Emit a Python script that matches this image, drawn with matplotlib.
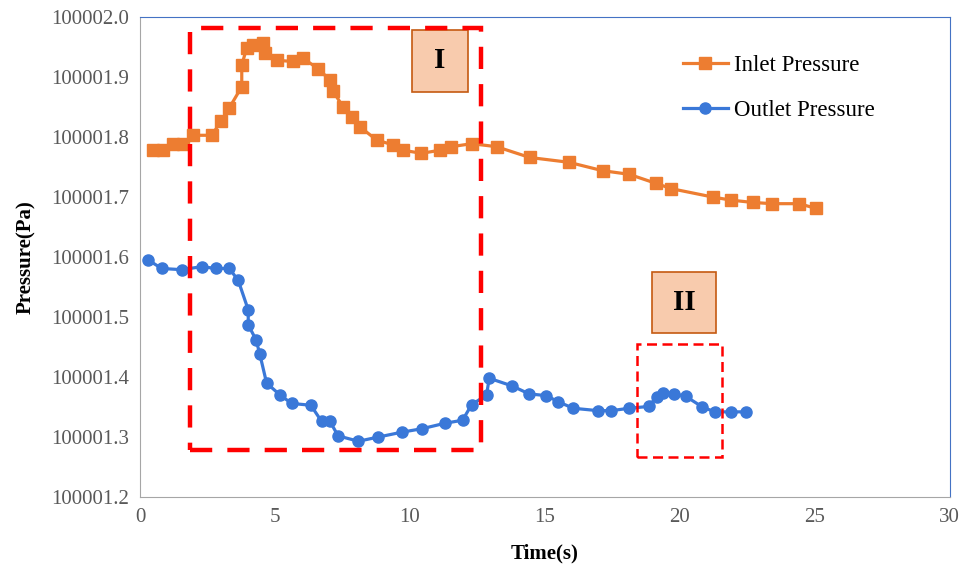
import matplotlib
matplotlib.use('Agg')
import matplotlib.pyplot as plt
from matplotlib.patches import Rectangle

plt.rcParams['font.family'] = ['Liberation Serif', 'DejaVu Serif']

# Inlet pressure (offset from 100000 Pa)
t_in = [0.49, 0.86, 1.23, 1.60, 1.97, 2.66, 2.99, 3.30, 3.77, 3.77, 3.95, 4.20, 4.57, 4.63,
        5.06, 5.68, 6.05, 6.60, 7.04, 7.16, 7.53, 7.84, 8.15, 8.77, 9.38, 9.75, 10.43, 11.11,
        11.54, 12.29, 13.21, 14.44, 15.89, 17.14, 18.12, 19.11, 19.69, 21.23, 21.89, 22.71,
        23.43, 24.42, 25.06]
p_in = [1.778, 1.778, 1.789, 1.789, 1.803, 1.803, 1.826, 1.848, 1.884, 1.920, 1.948, 1.953,
        1.956, 1.940, 1.928, 1.926, 1.931, 1.914, 1.895, 1.876, 1.850, 1.834, 1.817, 1.795,
        1.787, 1.778, 1.773, 1.778, 1.784, 1.789, 1.784, 1.766, 1.758, 1.744, 1.738, 1.723,
        1.714, 1.700, 1.695, 1.691, 1.689, 1.689, 1.681]

# Outlet pressure
t_out = [0.31, 0.80, 1.54, 2.29, 2.81, 3.31, 3.64, 4.01, 4.01, 4.30, 4.44, 4.69, 5.19, 5.62,
         6.33, 6.73, 7.04, 7.34, 8.09, 8.83, 9.69, 10.46, 11.30, 11.95, 12.29, 12.84, 12.94,
         13.80, 14.41, 15.06, 15.49, 16.05, 16.97, 17.47, 18.12, 18.85, 19.14, 19.38, 19.78,
         20.22, 20.84, 21.30, 21.91, 22.47]
p_out = [1.595, 1.581, 1.579, 1.584, 1.581, 1.581, 1.561, 1.512, 1.487, 1.462, 1.438, 1.390,
         1.370, 1.356, 1.353, 1.326, 1.326, 1.302, 1.293, 1.300, 1.308, 1.314, 1.323, 1.328,
         1.354, 1.370, 1.398, 1.385, 1.372, 1.369, 1.359, 1.348, 1.344, 1.344, 1.348, 1.351,
         1.367, 1.374, 1.372, 1.368, 1.350, 1.342, 1.342, 1.342]

base = 100000
p_in = [base + p for p in p_in]
p_out = [base + p for p in p_out]

orange = '#ED7D31'
blue = '#3A78D8'
red = '#FF0000'
peach = '#F8CBAD'
brown = '#C55A11'

fig = plt.figure(figsize=(9.69, 5.70), dpi=100)
ax = fig.add_axes([0.1445, 0.128, 0.8355, 0.842])

ax.plot(t_in, p_in, color=orange, lw=2.3, marker='s', ms=8, label='Inlet Pressure')
ax.plot(t_out, p_out, color=blue, lw=2.3, marker='o', ms=8, label='Outlet Pressure')

ax.set_xlim(0, 30)
ax.set_ylim(base + 1.2, base + 2.0)
ax.set_xticks(range(0, 31, 5))
ax.set_yticks([base + 1.2 + 0.1 * i for i in range(9)])
ax.set_yticklabels([f'{base + 1.2 + 0.1 * i:.1f}' for i in range(9)])
ax.tick_params(length=0, labelsize=15, labelcolor='#595959', pad=8)

for s in ['left', 'bottom']:
    ax.spines[s].set_color('#A6A6A6')
for s in ['top', 'right']:
    ax.spines[s].set_color('#4472C4')
    ax.spines[s].set_linewidth(0.8)

ax.set_xlabel('Time(s)', fontsize=15, fontweight='bold', labelpad=12)
ax.set_ylabel('Pressure(Pa)', fontsize=15, fontweight='bold', labelpad=11)

# labels I, II
ax.add_patch(Rectangle((10.06, base + 1.8755), 12.16 - 10.06, 1.978 - 1.8755,
                       fc=peach, ec=brown, lw=1.2, zorder=6))
ax.text(11.11, base + 1.927, 'I', fontsize=21, fontweight='bold', ha='center', va='center',
        zorder=7)
ax.add_patch(Rectangle((18.97, base + 1.4728), 21.36 - 18.97, 1.5755 - 1.4728,
                       fc=peach, ec=brown, lw=1.2, zorder=6))
ax.text(20.165, base + 1.524, 'II', fontsize=21, fontweight='bold', ha='center', va='center',
        zorder=7)

# dashed regions
ax.add_patch(Rectangle((1.85, base + 1.278), 12.63 - 1.85, 1.982 - 1.278, fill=False,
                       ec=red, lw=3.2, ls=(0, (5, 3.4)), zorder=8))
ax.add_patch(Rectangle((18.41, base + 1.267), 21.56 - 18.41, 1.455 - 1.267, fill=False,
                       ec=red, lw=1.8, ls=(0, (4, 2.2)), zorder=8))

ax.legend(loc='upper left', bbox_to_anchor=(0.645, 0.965), frameon=False, fontsize=16.5,
          handlelength=1.95, labelspacing=1.05, handletextpad=0.3)

fig.savefig('out.png', dpi=100)
